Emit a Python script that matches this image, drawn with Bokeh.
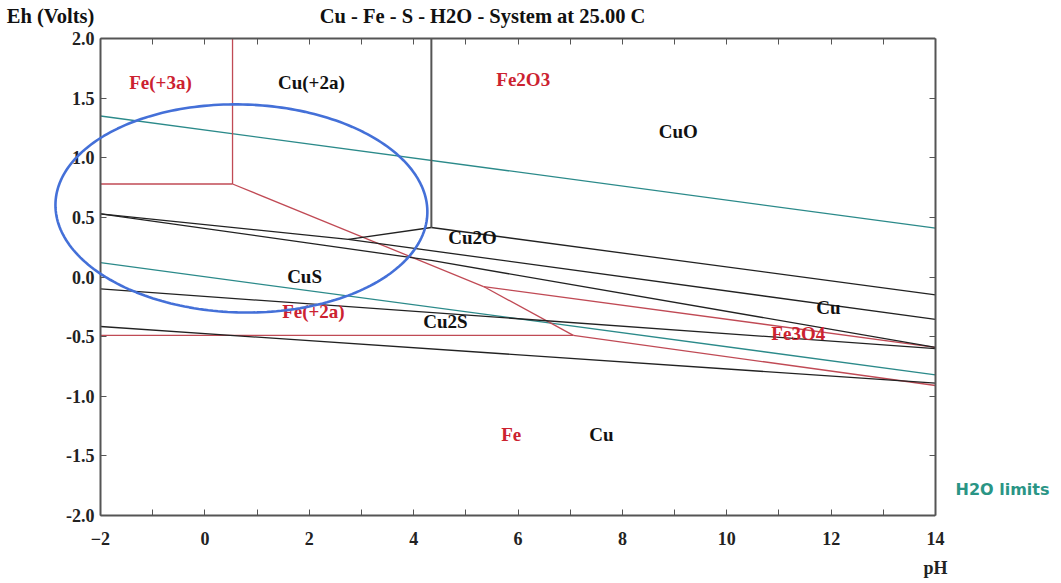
import numpy as np
from bokeh.plotting import figure
from bokeh.models import (Range1d, FixedTicker, LinearAxis, NumeralTickFormatter,
                          PolyAnnotation, ColumnDataSource, CustomJSTickFormatter)
from bokeh.core.properties import value
from bokeh.embed import file_html
from bokeh.resources import INLINE

# ---------------- data ----------------
# water stability limits (teal)
h2o_ph = [[-2, 14], [-2, 14]]
h2o_eh = [[1.35, 0.41], [0.12, -0.82]]

# Fe boundaries (red)
fe_ph = [[0.53, 0.53], [-2, 0.53], [0.53, 5.34], [5.34, 7.06],
         [-2, 7.06], [5.34, 14], [7.06, 14]]
fe_eh = [[2.0, 0.78], [0.78, 0.78], [0.78, -0.08], [-0.08, -0.49],
         [-0.49, -0.49], [-0.08, -0.59], [-0.49, -0.91]]

# Cu - S boundaries (black)
cu_ph = [[4.34, 14], [2.75, 4.34], [-2, 2.75, 14], [-2, 4.34, 14],
         [-2, 14], [-2, 14]]
cu_eh = [[0.415, -0.15], [0.315, 0.415], [0.53, 0.315, -0.355],
         [0.53, 0.139, -0.59], [-0.10, -0.60], [-0.415, -0.89]]
cu_vertical_ph = [4.34, 4.34]
cu_vertical_eh = [2.0, 0.415]

# field labels
lab_text = ["Fe(+3a)", "Cu(+2a)", "Fe2O3", "CuO", "Cu2O", "CuS",
            "Fe(+2a)", "Cu2S", "Cu", "Fe3O4", "Fe", "Cu"]
lab_ph = [-0.85, 2.04, 6.10, 9.07, 5.13, 1.91, 2.08, 4.61, 11.95, 11.37, 5.87, 7.60]
lab_eh = [1.63, 1.63, 1.66, 1.22, 0.33, 0.005, -0.29, -0.37, -0.255, -0.47, -1.32, -1.32]
lab_color = ["#cc2230", "#111111", "#cc2230", "#111111", "#111111", "#111111",
             "#cc2230", "#111111", "#111111", "#cc2230", "#cc2230", "#111111"]

x_ticks = [-2, 0, 2, 4, 6, 8, 10, 12, 14]
x_minor = [-1, 1, 3, 5, 7, 9, 11, 13]
x_top_ticks = list(range(-2, 15))
y_ticks = [-2.0, -1.5, -1.0, -0.5, 0.0, 0.5, 1.0, 1.5, 2.0]

title_text = "Cu - Fe - S - H2O - System at 25.00 C"
y_title = "Eh (Volts)"
x_title = "pH"
legend_text = "H2O limits"
# positions of the header texts along the top / right edges (data units)
header_ph = [-2.958, 5.32]
legend_eh = [-1.78]

# highlight ellipse (annotation geometry)
ell_center = (0.70, 0.575)

# ---------------- figure ----------------
serif = "Liberation Serif"
edge = "#555555"
PX_PH = 52.1875   # pixels per pH unit in the reference
PX_V = 119.25     # pixels per volt in the reference

p = figure(width=1061, height=583, output_backend="svg", toolbar_location=None,
           x_range=Range1d(-2 - 55 / PX_PH, 14),
           y_range=Range1d(-2 - 11 / PX_V, 2 + 12 / PX_V),
           min_border_left=45, min_border_right=126,
           min_border_top=26, min_border_bottom=57,
           background_fill_color="white", border_fill_color="white")
p.title.visible = False
p.grid.visible = False
p.outline_line_color = None

def style(ax):
    ax.axis_line_color = edge
    ax.axis_line_width = 2
    ax.major_tick_in = 6
    ax.major_tick_out = 0
    ax.minor_tick_in = 6
    ax.minor_tick_out = 0
    ax.major_tick_line_color = edge
    ax.minor_tick_line_color = edge
    ax.major_label_text_font = serif
    ax.major_label_text_font_style = "bold"
    ax.major_label_text_font_size = "18px"
    ax.major_label_text_color = "#222222"

# bottom: labels only (at the frame bottom)
xa = p.xaxis[0]
style(xa)
xa.ticker = FixedTicker(ticks=x_ticks)
xa.axis_line_color = None
xa.major_tick_in = 0
xa.minor_tick_in = 0
xa.major_label_standoff = 5

# bottom edge of the box with its ticks
xedge = LinearAxis(ticker=FixedTicker(ticks=x_ticks, minor_ticks=x_minor),
                   bounds=(-2, 14), fixed_location=-2)
style(xedge)
xedge.major_label_text_font_size = "0px"
xedge.major_label_text_color = None
xedge.major_label_standoff = 0
p.add_layout(xedge, "below")

# x-axis title "pH" below the last tick
phax = LinearAxis(ticker=FixedTicker(ticks=[14]),
                  formatter=CustomJSTickFormatter(args=dict(a=x_title), code="return a"))
style(phax)
phax.axis_line_color = None
phax.major_tick_in = 0
phax.minor_tick_in = 0
phax.major_label_standoff = 10
p.add_layout(phax, "below")

# left edge of the box with labels
ya = p.yaxis[0]
style(ya)
ya.ticker = FixedTicker(ticks=y_ticks)
ya.formatter = NumeralTickFormatter(format="0.0")
ya.fixed_location = -2
ya.bounds = (-2, 2)
ya.major_label_standoff = 6

# top edge with ticks every pH unit
top = LinearAxis(ticker=FixedTicker(ticks=[], minor_ticks=x_top_ticks),
                 bounds=(-2, 14), fixed_location=2)
style(top)
top.major_label_standoff = 0
p.add_layout(top, "above")

# header texts (y-axis title and plot title)
head = LinearAxis(ticker=FixedTicker(ticks=header_ph),
                  formatter=CustomJSTickFormatter(
                      args=dict(a=y_title, b=title_text),
                      code="return tick < 0 ? a : b"))
style(head)
head.axis_line_color = None
head.major_tick_in = 0
head.minor_tick_in = 0
head.major_label_text_font_size = "20.5px"
head.major_label_text_color = "#111111"
head.major_label_standoff = 0
p.add_layout(head, "above")

# right edge with ticks, plus the "H2O limits" caption
right = LinearAxis(ticker=FixedTicker(ticks=legend_eh, minor_ticks=y_ticks),
                   formatter=CustomJSTickFormatter(args=dict(a=legend_text),
                                                   code="return a"),
                   bounds=(-2, 2))
style(right)
right.major_tick_in = 0
right.major_label_standoff = 20
right.major_label_text_font = "DejaVu Sans"
right.major_label_text_font_size = "16px"
right.major_label_text_color = "#2a9585"
p.add_layout(right, "right")

# lines
p.multi_line(xs=h2o_ph, ys=h2o_eh, line_color="#2b8a8a", line_width=1.3)
p.multi_line(xs=fe_ph, ys=fe_eh, line_color="#c04a55", line_width=1.3)
p.multi_line(xs=cu_ph, ys=cu_eh, line_color="#222222", line_width=1.3)
p.line(x=cu_vertical_ph, y=cu_vertical_eh, line_color=edge, line_width=2)

src = ColumnDataSource(dict(x=lab_ph, y=lab_eh, t=lab_text, c=lab_color))
p.text(x="x", y="y", text="t", text_color="c", source=src,
       text_font=value(serif), text_font_style="bold", text_font_size=value("19px"),
       text_align="center", text_baseline="middle")

# ellipse
t = np.linspace(0, 2 * np.pi, 240)
a_px, b_px, phi = 186.0, 104.0, np.deg2rad(-1.5)
dx = a_px * np.cos(t) * np.cos(phi) - b_px * np.sin(t) * np.sin(phi)
dy = a_px * np.cos(t) * np.sin(phi) + b_px * np.sin(t) * np.cos(phi)
ell = PolyAnnotation(xs=list(ell_center[0] + dx / PX_PH),
                     ys=list(ell_center[1] + dy / PX_V),
                     fill_alpha=0, line_color="#4470d8", line_alpha=1.0,
                     line_width=2.6)
p.add_layout(ell)

open("out.html", "w").write(file_html(p, INLINE))
